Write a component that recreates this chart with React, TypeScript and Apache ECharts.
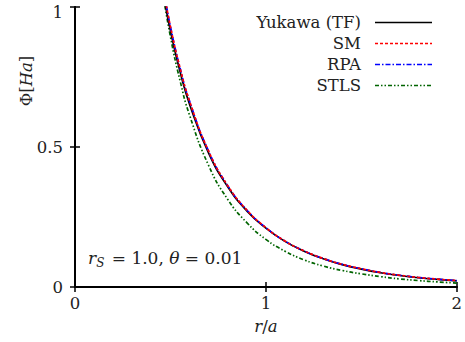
import React, { useEffect, useRef } from "react";
import * as echarts from "echarts";

const rYukawa = [0.47, 0.5, 0.55, 0.6, 0.7, 0.8, 0.9, 1.0, 1.1, 1.2, 1.3, 1.4, 1.5, 1.6, 1.7, 1.8, 1.9, 2.0];
const phiYukawa = [1.02, 0.915, 0.77, 0.653, 0.478, 0.358, 0.272, 0.21, 0.163, 0.128, 0.101, 0.08, 0.064, 0.051, 0.041, 0.033, 0.027, 0.022];

const rSM = [0.47, 0.5, 0.55, 0.6, 0.7, 0.8, 0.9, 1.0, 1.1, 1.2, 1.3, 1.4, 1.5, 1.6, 1.7, 1.8, 1.9, 2.0];
const phiSM = [1.04, 0.93, 0.783, 0.664, 0.485, 0.362, 0.275, 0.212, 0.164, 0.129, 0.102, 0.081, 0.065, 0.052, 0.042, 0.034, 0.028, 0.023];

const rRPA = [0.47, 0.5, 0.55, 0.6, 0.7, 0.8, 0.9, 1.0, 1.1, 1.2, 1.3, 1.4, 1.5, 1.6, 1.7, 1.8, 1.9, 2.0];
const phiRPA = [1.04, 0.93, 0.783, 0.664, 0.485, 0.362, 0.275, 0.212, 0.164, 0.129, 0.102, 0.081, 0.065, 0.052, 0.042, 0.034, 0.028, 0.023];

const rSTLS = [0.46, 0.5, 0.55, 0.6, 0.7, 0.8, 0.9, 1.0, 1.1, 1.2, 1.3, 1.4, 1.5, 1.6, 1.7, 1.8, 1.9, 2.0];
const phiSTLS = [1.05, 0.894, 0.738, 0.614, 0.434, 0.313, 0.23, 0.17, 0.128, 0.097, 0.075, 0.059, 0.047, 0.037, 0.029, 0.023, 0.018, 0.014];

const seriesNames = ["Yukawa (TF)", "SM", "RPA", "STLS"];
const seriesColors = ["#000000", "#ff0000", "#0000ff", "#006400"];
const seriesDashes: (number[] | null)[] = [null, [3, 2], [5, 2, 1.5, 2], [4, 2, 1.5, 2, 1.5, 2]];
const seriesZ = [2, 4, 3, 1];

const xTicks = [0, 1, 2];
const yTicks = [0, 0.5, 1];

const FONT = "DejaVu Serif";
const FS = 16.5;
const TXT = "#222";

function pairs(xs: number[], ys: number[]) {
  return xs.map((x, i) => [x, ys[i]]);
}

export default function App() {
  const ref = useRef<HTMLDivElement>(null);
  useEffect(() => {
    if (!ref.current) return;
    const chart = echarts.init(ref.current, undefined, { renderer: "svg" });
    const dataSets = [
      pairs(rYukawa, phiYukawa),
      pairs(rSM, phiSM),
      pairs(rRPA, phiRPA),
      pairs(rSTLS, phiSTLS),
    ];
    const axisLine = { show: true, lineStyle: { color: "#000", width: 2 } };
    const tick = { show: true, inside: true, length: 5, lineStyle: { color: "#000", width: 1.5 } };
    const legendX2 = 432;
    const legendX1 = 375;
    const legendTextX = 361;
    const legendYs = [22.5, 43.5, 64.5, 85.5];
    const graphics: any[] = [];
    const u = { fontFamily: FONT, fontSize: FS, fill: TXT, color: TXT };
    const it = { fontFamily: FONT, fontSize: FS, fontStyle: "italic", fill: TXT, color: TXT };
    seriesNames.forEach((n, i) => {
      graphics.push({
        type: "text",
        x: legendTextX,
        y: legendYs[i],
        style: { text: n, font: `${FS}px DejaVu Serif`, fill: TXT, textAlign: "right", textVerticalAlign: "middle" },
      });
      graphics.push({
        type: "line",
        shape: { x1: legendX1, y1: legendYs[i], x2: legendX2, y2: legendYs[i] },
        style: { stroke: seriesColors[i], lineWidth: 1.6, lineDash: seriesDashes[i] || undefined },
      });
    });
    graphics.push({
      type: "text",
      x: 26,
      y: 81,
      rotation: Math.PI / 2,
      style: {
        text: "{u|Φ[}{i|Ha}{u|]}",
        textAlign: "center",
        textVerticalAlign: "middle",
        fill: TXT,
        rich: { u, i: it },
      },
    });
    graphics.push({
      type: "text",
      x: 88,
      y: 258,
      style: {
        text: "{i|r}{s|S}{u| = 1.0, }{i|θ}{u| = 0.01}",
        textAlign: "left",
        textVerticalAlign: "middle",
        fill: TXT,
        rich: {
          u: { ...u, fontSize: 17 },
          i: { ...it, fontSize: 17 },
          s: { fontFamily: FONT, fontSize: 12, fontStyle: "italic", fill: TXT, color: TXT, padding: [9, 2, 0, 0] },
        },
      },
    });
    graphics.push({
      type: "text",
      x: 266,
      y: 326,
      style: {
        text: "{i|r}{u|/}{i|a}",
        textAlign: "center",
        textVerticalAlign: "middle",
        fill: TXT,
        rich: { u, i: it },
      },
    });

    chart.setOption({
      animation: false,
      backgroundColor: "#fff",
      textStyle: { fontFamily: FONT },
      grid: { left: 75, right: 8, top: 7, bottom: 55, containLabel: false },
      xAxis: [
        {
          type: "value",
          min: 0,
          max: 2,
          interval: 1,
          position: "bottom",
          axisLine,
          axisTick: tick,
          splitLine: { show: false },
          axisLabel: {
            margin: 8,
            fontFamily: FONT,
            fontSize: FS,
            color: TXT,
            formatter: (v: number) => (xTicks.includes(v) ? String(v) : ""),
          },
        },
        {
          type: "value",
          min: 0,
          max: 2,
          interval: 1,
          position: "top",
          axisLine,
          axisTick: tick,
          splitLine: { show: false },
          axisLabel: { show: false },
        },
      ],
      yAxis: [
        {
          type: "value",
          min: 0,
          max: 1,
          interval: 0.5,
          position: "left",
          axisLine,
          axisTick: tick,
          splitLine: { show: false },
          axisLabel: {
            margin: 12,
            fontFamily: FONT,
            fontSize: FS,
            color: TXT,
            formatter: (v: number) => {
              if (!yTicks.includes(v)) return "";
              if (v === 1) return "{t|1}";
              return String(v);
            },
            rich: { t: { fontFamily: FONT, fontSize: FS, color: TXT, padding: [11, 0, 0, 0] } },
          },
        },
        {
          type: "value",
          min: 0,
          max: 1,
          interval: 0.5,
          position: "right",
          axisLine,
          axisTick: tick,
          splitLine: { show: false },
          axisLabel: { show: false },
        },
      ],
      series: dataSets.map((d, i) => ({
        name: seriesNames[i],
        type: "line",
        data: d,
        smooth: true,
        showSymbol: false,
        clip: true,
        z: seriesZ[i],
        lineStyle: {
          color: seriesColors[i],
          width: 1.7,
          type: seriesDashes[i] || "solid",
        },
      })),
      graphic: graphics,
    });
    return () => chart.dispose();
  }, []);
  return <div ref={ref} style={{ width: 465, height: 342, position: "absolute", left: 0, top: 0 }} />;
}
